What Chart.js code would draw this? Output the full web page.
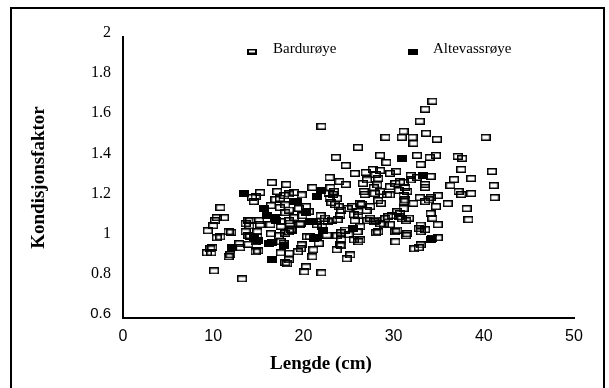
<!DOCTYPE html>
<html><head><meta charset="utf-8">
<script src="https://cdn.jsdelivr.net/npm/chart.js@4"></script>
<style>html,body{margin:0;padding:0;background:#fff}canvas{display:block}</style>
</head><body>
<canvas id="c" width="609" height="388"></canvas>
<script>
const bardLength = [
34.3,33.5,32.9,22.0,31.1,30.9,32.1,29.1,33.6,34.8,
40.2,32.2,26.05,23.6,28.5,32.6,34.0,34.7,37.1,37.6,
33.0,24.7,27.7,29.2,30.3,28.5,37.5,40.9,38.6,36.7,
25.7,26.9,22.9,24.0,24.7,26.6,28.0,28.3,29.6,31.1,
30.2,31.9,32.6,34.1,33.5,36.3,41.1,33.5,27.8,31.3,
30.6,21.0,23.0,16.5,18.1,19.0,17.1,15.2,17.9,14.3,
14.5,16.9,23.3,23.4,22.9,23.1,26.8,27.9,28.3,29.3,
31.1,31.1,32.9,34.1,34.9,33.5,36.0,37.2,37.5,38.6,
41.2,38.1,38.3,34.7,34.1,34.9,34.9,32.8,33.0,31.4,
31.5,31.4,30.2,30.2,32.3,32.8,31.1,30.9,30.7,29.8,
29.1,28.5,28.9,29.6,27.8,27.1,28.05,27.0,26.5,26.1,
26.0,25.0,24.8,24.2,24.2,24.2,23.7,23.75,23.8,25.6,
25.7,24.9,24.2,23.5,22.7,21.9,21.4,21.5,20.7,21.1,
21.0,20.3,20.1,22.0,20.3,19.9,19.6,19.7,19.4,18.6,
18.4,18.4,18.2,19.0,18.4,18.0,17.5,17.3,17.5,17.5,
16.4,16.0,16.35,16.4,15.1,15.2,14.9,14.7,14.7,13.9,
13.6,13.6,13.9,12.9,13.0,11.7,11.7,11.9,11.2,10.8,
10.2,10.4,10.0,9.4,9.7,9.3,9.8,10.1,13.2,
14.7,17.4,17.4,10.4,14.1,14.0,17.5,12.0,10.8,14.1,14.9,9.9,13.9,15.0,18.0,
18.4,19.8,22.8,23.7,25.4,23.9,18.0,18.4,19.5,20.6,22.4,23.2,24.1,26.1,18.5,19.7,22.1,24.6,18.7,18.0,20.4,22.6,25.6,17.8,19.8,21.7,24.1,18.4,25.2,
27.05,28.2,29.6,30.7,31.9,26.7,28.5,29.6,31.5,33.9,26.3,27.4,28.6,31.3,32.2,26.1,30.4,29.4,27.4,28.0,30.6,31.7,33.0,34.3,26.3,28.3,30.4,33.5,26.3,33.0,34.3
];
const bardK = [
1.68,1.64,1.58,1.555,1.53,1.50,1.50,1.50,1.52,1.49,
1.50,1.47,1.45,1.40,1.41,1.41,1.40,1.41,1.405,1.395,
1.365,1.36,1.34,1.375,1.33,1.335,1.34,1.33,1.295,1.29,
1.32,1.325,1.30,1.28,1.265,1.27,1.315,1.295,1.32,1.275,
1.27,1.31,1.30,1.305,1.265,1.26,1.26,1.25,1.25,1.25,
1.235,1.25,1.25,1.275,1.265,1.225,1.23,1.225,1.21,1.20,
1.18,1.19,1.215,1.23,1.195,1.175,1.215,1.22,1.185,1.215,
1.21,1.18,1.20,1.20,1.21,1.18,1.17,1.23,1.215,1.22,
1.20,1.145,1.09,1.155,1.12,1.065,1.0,1.045,1.03,1.085,
1.02,1.01,1.03,0.98,0.945,0.95,1.145,1.095,1.12,1.11,
1.095,1.07,1.065,1.065,1.08,1.085,1.025,1.135,1.165,0.98,
1.03,1.015,0.895,1.025,0.99,0.96,0.94,1.01,1.09,1.115,
1.085,1.145,1.135,1.165,1.08,1.11,1.08,1.065,1.005,0.94,
0.905,0.855,0.83,0.825,1.155,1.11,1.065,0.945,0.93,1.04,
1.03,0.89,0.87,1.10,1.085,1.125,1.08,1.01,0.98,0.925,
1.16,1.11,1.065,1.02,1.085,1.065,1.03,0.98,0.93,1.01,
1.03,1.07,1.085,0.97,0.95,1.03,0.905,0.915,1.10,1.15,
1.085,1.0,1.06,1.035,0.945,0.925,0.925,0.835,0.795,
1.204,1.196,1.15,1.10,1.085,1.06,1.057,1.027,1.004,1.008,1.008,0.95,0.967,0.934,0.876,
1.218,1.213,1.22,1.196,1.155,1.155,1.163,1.138,1.146,1.13,1.097,1.088,1.113,1.113,1.072,1.072,1.055,1.038,1.038,1.022,1.005,1.013,0.989,0.972,0.964,0.972,0.964,0.922,0.914,
1.288,1.263,1.254,1.279,1.288,1.23,1.23,1.213,1.23,1.188,1.171,1.155,1.171,1.188,1.171,1.13,1.13,1.105,1.097,1.088,1.105,1.097,1.063,1.097,1.055,1.03,1.038,1.04,0.989,0.964,0.997
];
const altLength = [13.4,12.1,14.5,15.0,15.6,16.0,16.9,17.0,16.2,16.5,16.5,17.9,19.0,19.3,20.3,20.7,21.1,21.2,21.5,22.2,21.9,21.5,25.5,30.9,33.3,34.2];
const altK = [1.22,0.95,1.0,0.985,1.145,1.11,1.10,1.085,0.97,0.975,0.89,0.96,1.18,1.18,1.125,1.08,1.08,0.995,1.0,1.035,1.235,1.205,1.045,1.395,1.31,0.99];
const xTickValues = [0,10,20,30,40,50];
const yTickValues = [0.6,0.8,1.0,1.2,1.4,1.6,1.8,2.0];
const seriesNames = ['Bardurøye','Altevassrøye'];
const xTitle = 'Lengde (cm)';
const yTitle = 'Kondisjonsfaktor';

function pairs(xs, ys){ const n=Math.min(xs.length, ys.length); const out=[]; for(let i=0;i<n;i++) out.push({x:xs[i], y:ys[i]}); return out; }
function makeMarker(filled, w, h, lw){
  const c=document.createElement('canvas'); c.width=w; c.height=h;
  const g=c.getContext('2d');
  if(filled){ g.fillStyle='#000'; g.fillRect(0,0,w,h); }
  else { g.strokeStyle='#000'; g.lineWidth=lw; g.strokeRect(lw/2,lw/2,w-lw,h-lw); }
  return c;
}
const hollow = makeMarker(false, 10, 7, 1.5);
const solid = makeMarker(true, 10, 7, 0);
const hollowLeg = makeMarker(false, 10, 6, 2);
const solidLeg = makeMarker(true, 10, 6, 0);

const SERIF = '"Liberation Serif", "Times New Roman", serif';
const SANS = '"Liberation Sans", Arial, sans-serif';

const decor = {
  id:'decor',
  afterDraw(chart){
    const ctx=chart.ctx; ctx.save();
    ctx.strokeStyle='#000'; ctx.lineWidth=2;
    ctx.beginPath(); ctx.moveTo(11,388); ctx.lineTo(11,8); ctx.lineTo(604,8); ctx.lineTo(604,388); ctx.stroke();
    ctx.drawImage(hollowLeg, 247, 48.5);
    ctx.drawImage(solidLeg, 408, 48.5);
    ctx.fillStyle='#000'; ctx.textBaseline='alphabetic'; ctx.textAlign='left';
    ctx.font='15px '+SERIF;
    ctx.fillText(seriesNames[0], 273, 53);
    ctx.fillText(seriesNames[1], 433, 53);
    ctx.font='bold 19px '+SERIF; ctx.textAlign='center'; ctx.textBaseline='middle';
    ctx.fillText(xTitle, 321, 364);
    ctx.restore();
  }
};

new Chart(document.getElementById('c'), {
  type:'scatter',
  data:{ datasets:[
    { label:seriesNames[1], data:pairs(altLength, altK), pointStyle:solid, pointRadius:4, order:0, showLine:false },
    { label:seriesNames[0], data:pairs(bardLength, bardK), pointStyle:hollow, pointRadius:4, order:1, showLine:false }
  ]},
  options:{
    responsive:false, animation:false, events:[], devicePixelRatio:1,
    layout:{ padding:{ left:0, top:37, right:35, bottom:0 } },
    plugins:{ legend:{display:false}, tooltip:{enabled:false} },
    scales:{
      x:{ type:'linear', min:0, max:50,
        afterBuildTicks:(s)=>{ s.ticks = xTickValues.map(v=>({value:v})); },
        afterFit:(s)=>{ s.height = 70; },
        grid:{ display:false, drawTicks:false, tickLength:0 },
        border:{ display:true, color:'#000', width:2 },
        ticks:{ color:'#000', font:{ family:SANS, size:16 }, padding:9, maxRotation:0, autoSkip:false }
      },
      y:{ type:'linear', min:0.6, max:2,
        afterBuildTicks:(s)=>{ s.ticks = yTickValues.map(v=>({value:v})); },
        afterFit:(s)=>{ s.width = 123; },
        grid:{ display:false, drawTicks:false, tickLength:0 },
        border:{ display:true, color:'#000', width:2 },
        title:{ display:true, text:yTitle, color:'#000', font:{ family:SERIF, size:19, weight:'bold' }, padding:{ top:28, bottom:0 } },
        ticks:{ color:'#000', padding:12, labelOffset:-4, autoSkip:false,
          callback:(v)=>String(Number(Number(v).toFixed(1))),
          font:(c)=> (c.tick && Math.abs(c.tick.value-0.6)<1e-6) ? { family:SANS, size:15 } : { family:SERIF, size:16 } }
      }
    }
  },
  plugins:[decor]
});
</script>
</body></html>
